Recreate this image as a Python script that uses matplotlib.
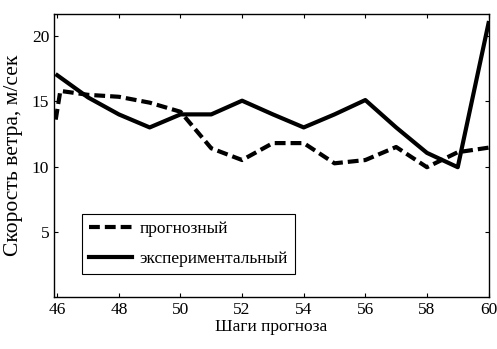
import numpy as np
import matplotlib.pyplot as plt

plt.rcParams['font.family'] = ['Liberation Serif', 'DejaVu Serif']

# forecast steps
steps = [46, 47, 48, 49, 50, 51, 52, 53, 54, 55, 56, 57, 58, 59, 60]

# forecast wind speed (starts with a short jump right at the left edge)
fc_steps = [45.95, 46.1] + steps[1:]
fc_speed = [13.6, 15.8, 15.5, 15.35, 14.9, 14.2, 11.4, 10.5, 11.8, 11.8,
            10.25, 10.5, 11.5, 9.95, 11.1, 11.45]

# measured wind speed
exp_speed = [17.0, 15.3, 14.0, 13.0, 14.0, 14.0, 15.05, 14.0, 13.0, 14.0,
             15.1, 13.0, 11.05, 9.95, 21.0]

fs = 12.5

fig = plt.figure(figsize=(4.97, 3.49), dpi=100)
ax = fig.add_axes([0.109, 0.149, 0.874, 0.811])

ax.plot(fc_steps, fc_speed, 'k--', lw=3, dashes=(2.6, 1.2), label='прогнозный')
ax.plot(steps, exp_speed, 'k-', lw=3, label='экспериментальный')

ax.set_xlim(45.9, 60)
ax.set_ylim(0, 21.7)
ax.set_xticks(np.arange(46, 61, 2))
ax.set_yticks([5, 10, 15, 20])
ax.tick_params(direction='in', top=True, right=True, length=3, labelsize=fs, width=0.8)
for s in ax.spines.values():
    s.set_linewidth(1.0)

ax.set_xlabel('Шаги прогноза', fontsize=fs, labelpad=1)
ax.set_ylabel('Скорость ветра, м/сек', fontsize=15.5)
ax.yaxis.set_label_coords(-0.072, 0.5)

leg = ax.legend(loc='lower left', bbox_to_anchor=(0.064, 0.081), fontsize=fs,
                handlelength=2.5, fancybox=False, framealpha=1,
                edgecolor='black', borderpad=0.4, labelspacing=0.8,
                handletextpad=0.4, borderaxespad=0)
leg.get_frame().set_linewidth(0.8)

plt.savefig('out.png', dpi=100)
